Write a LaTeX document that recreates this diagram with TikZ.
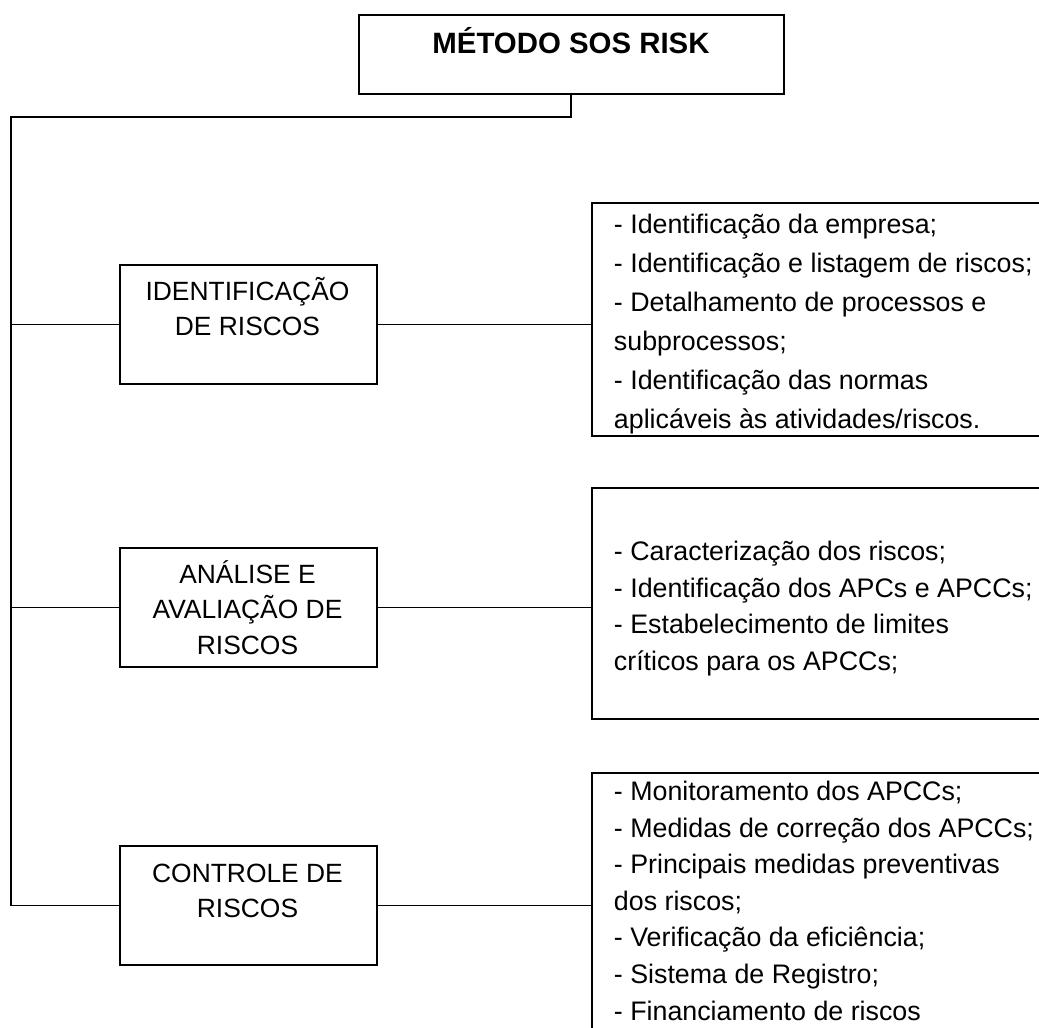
\documentclass[tikz,border=0pt]{standalone}
\usepackage{fontspec}
\setmainfont{Liberation Sans}
\begin{document}
\begin{tikzpicture}[x=1pt,y=-1pt,line width=1.9pt,
  box/.style={draw,line width=1.9pt,anchor=north west,inner sep=0pt},
  lbl/.style={align=center,anchor=base,inner sep=0pt,font=\fontsize{26.4}{35.5}\selectfont},
  lstA/.style={align=left,anchor=base west,inner sep=0pt,font=\fontsize{26.8}{39}\selectfont},
  lstB/.style={align=left,anchor=base west,inner sep=0pt,font=\fontsize{26.8}{36.6}\selectfont},
  ttl/.style={anchor=base,inner sep=0pt,font=\bfseries\fontsize{29.4}{35}\selectfont},
  conn/.style={draw,line width=1.9pt}]
\useasboundingbox (0,0) rectangle (1039,1028);
% top box
\node[box,minimum width=425,minimum height=79] (t) at (358,14) {};
\node[ttl] (tt) at (571,53) {MÉTODO SOS RISK};
% left boxes
\node[box,minimum width=257,minimum height=119] (b1) at (119,264) {};
\node[box,minimum width=257,minimum height=119] (b2) at (119,547) {};
\node[box,minimum width=257,minimum height=119] (b3) at (119,845) {};
% (base anchor = baseline of the last line)
\node[lbl] (l1) at (247.5,335.5) {IDENTIFICAÇÃO\\DE RISCOS};
\node[lbl] (l2) at (247.5,654) {ANÁLISE E\\AVALIAÇÃO DE\\RISCOS};
\node[lbl] (l3) at (247.5,917.5) {CONTROLE DE\\RISCOS};
% right boxes (extend past the right edge)
\node[box,minimum width=470,minimum height=233] (r1) at (591,202) {};
\node[box,minimum width=470,minimum height=231] (r2) at (591,487) {};
\node[box,minimum width=470,minimum height=300] (r3) at (591,772) {};
\node[lstA] (x1) at (613,428) {- Identificação da empresa;\\- Identificação e listagem de riscos;\\- Detalhamento de processos e\\subprocessos;\\- Identificação das normas\\aplicáveis às atividades/riscos.};
\node[lstB] (x2) at (613,670.5) {- Caracterização dos riscos;\\- Identificação dos APCs e APCCs;\\- Estabelecimento de limites\\críticos para os APCCs;};
\node[lstB] (x3) at (613,1020) {- Monitoramento dos APCCs;\\- Medidas de correção dos APCCs;\\- Principais medidas preventivas\\dos riscos;\\- Verificação da eficiência;\\- Sistema de Registro;\\- Financiamento de riscos};
% connectors
\coordinate (tl) at (11,117);
\draw[conn] (t.south -| 571,0) |- (tl) |- (b3.west);
\draw[conn] (b1.west -| tl) -- (b1.west);
\draw[conn] (b2.west -| tl) -- (b2.west);
\draw[conn] (b1.east) -- (b1.east -| r1.west);
\draw[conn] (b2.east) -- (b2.east -| r2.west);
\draw[conn] (b3.east) -- (b3.east -| r3.west);
\end{tikzpicture}
\end{document}
